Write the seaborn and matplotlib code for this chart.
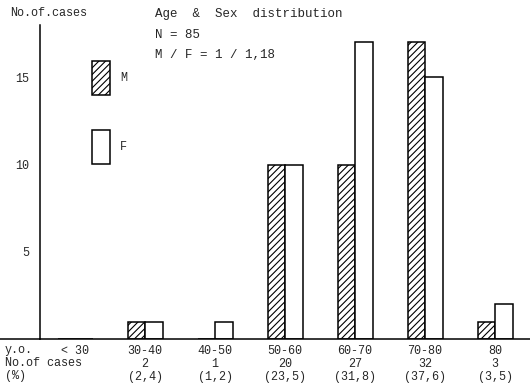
import matplotlib
matplotlib.use("Agg")
import matplotlib.pyplot as plt
from matplotlib.patches import Rectangle
import seaborn as sns
import pandas as pd

# data
age_groups = ["< 30", "30-40", "40-50", "50-60", "60-70", "70-80", "80"]
male = [0, 1, 0, 10, 10, 17, 1]
female = [0, 1, 1, 10, 17, 15, 2]
n_cases = ["", "2", "1", "20", "27", "32", "3"]
pct = ["", "(2,4)", "(1,2)", "(23,5)", "(31,8)", "(37,6)", "(3,5)"]

df = pd.DataFrame({
    "age": age_groups * 2,
    "sex": ["M"] * len(age_groups) + ["F"] * len(age_groups),
    "count": male + female,
})

sns.set_style("white")
plt.rcParams["font.family"] = ["Liberation Mono", "DejaVu Sans Mono"]
plt.rcParams["font.size"] = 8.5
plt.rcParams["hatch.linewidth"] = 0.8

fig = plt.figure(figsize=(5.3, 3.9), dpi=100)
ax = fig.add_axes([40 / 530, 1 - 339 / 390, 1 - 40 / 530, (339 - 25) / 390])

sns.barplot(data=df, x="age", y="count", hue="sex", order=age_groups,
            hue_order=["M", "F"], width=0.5, dodge=True, ax=ax,
            palette={"M": "white", "F": "white"}, edgecolor="black",
            linewidth=1.1, legend=False)
for bar in ax.containers[0]:
    bar.set_hatch("/////")

ax.set_xlim(-0.5, 6.5)
ax.set_ylim(0, 18)
ax.set_yticks([5, 10, 15])
ax.tick_params(axis="y", direction="out", length=5, width=1, pad=3, labelsize=8.5)
ax.tick_params(axis="x", length=0, pad=4)
ax.set_xticks(range(len(age_groups)))
labels = []
for a, n, p in zip(age_groups, n_cases, pct):
    labels.append(a if not n else f"{a}\n{n}\n{p}")
ax.set_xticklabels(labels, linespacing=1.12, fontsize=8.5, va="top")
ax.set_xlabel("")
ax.set_ylabel("")
for side in ["top", "right"]:
    ax.spines[side].set_visible(False)
for side in ["left", "bottom"]:
    ax.spines[side].set_color("black")
    ax.spines[side].set_linewidth(1.1)

# baseline runs to the left edge of the page
fig.add_artist(plt.Line2D([0, 40 / 530], [1 - 339 / 390] * 2, color="black", lw=1.1))

# row headers under the axis
fig.text(5 / 530, 1 - 350 / 390, "y.o.", ha="left", va="center")
fig.text(5 / 530, 1 - 363 / 390, "No.of cases", ha="left", va="center")
fig.text(5 / 530, 1 - 376 / 390, "(%)", ha="left", va="center")

fig.text(10 / 530, 1 - 13 / 390, "No.of.cases", ha="left", va="center", fontsize=8.5)
fig.text(155 / 530, 1 - 14 / 390, "Age  &  Sex  distribution", ha="left", va="center", fontsize=9)
fig.text(155 / 530, 1 - 35 / 390, "N = 85", ha="left", va="center", fontsize=9)
fig.text(155 / 530, 1 - 55 / 390, "M / F = 1 / 1,18", ha="left", va="center", fontsize=9)

# hand-drawn style legend boxes
for y0, lab, hatch in [(61, "M", "/////"), (130, "F", None)]:
    fig.add_artist(Rectangle((92 / 530, 1 - (y0 + 34) / 390), 18 / 530, 34 / 390,
                             transform=fig.transFigure, facecolor="white",
                             edgecolor="black", lw=1.1, hatch=hatch))
    fig.text(120 / 530, 1 - (y0 + 17) / 390, lab, ha="left", va="center")

fig.savefig("out.png", dpi=100)
